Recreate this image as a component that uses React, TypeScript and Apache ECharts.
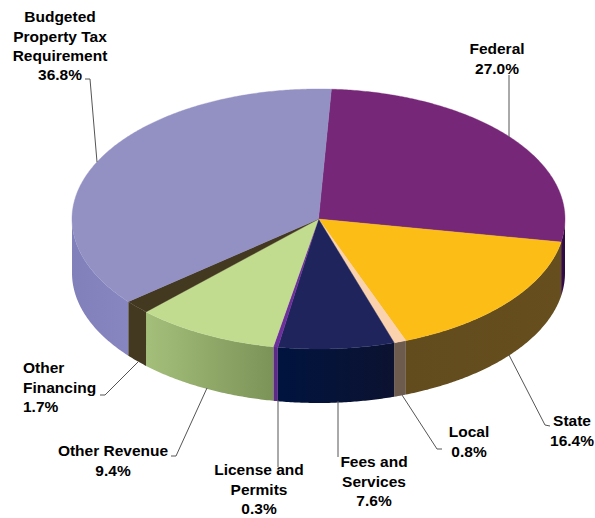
import React, { useEffect, useRef } from "react";
import * as echarts from "echarts";

const categories = ["Federal", "State", "Local", "Fees and\nServices", "License and\nPermits", "Other Revenue", "Other\nFinancing", "Budgeted\nProperty Tax\nRequirement"];
const shares = [27.0, 16.4, 0.8, 7.6, 0.3, 9.4, 1.7, 36.8];

const topColors = ["#762777", "#FBBD16", "#FBD2AE", "#1F255C", "#6C2F9B", "#C1DB8F", "#433820", "#9391C4"];
const wallColors = [
  ["#3A0E4C", "#2A0A3C"],
  ["#624B1D", "#664E1E"],
  ["#6D5B4E", "#6D5B4E"],
  ["#00143F", "#0C1230"],
  ["#5A2A86", "#5A2A86"],
  ["#A4BF7A", "#7C9358"],
  ["#433820", "#433820"],
  ["#8280BA", "#8886C0"],
];

const CX = 318.5, CY = 219, RX = 246.5, RY = 130, DEPTH = 54, START_DEG = 3;

const pt = (deg: number, dy = 0): number[] => {
  const a = (deg * Math.PI) / 180;
  return [CX + RX * Math.sin(a), CY - RY * Math.cos(a) + dy];
};
const arc = (from: number, to: number, dy = 0) => {
  const n = Math.max(2, Math.ceil(Math.abs(to - from) * 2));
  const out: number[][] = [];
  for (let i = 0; i <= n; i++) out.push(pt(from + ((to - from) * i) / n, dy));
  return out;
};

const renderSlice = (params: any, api: any) => {
  const i = params.dataIndex;
  const total = shares.reduce((s, v) => s + v, 0);
  const before = shares.slice(0, i).reduce((s, v) => s + v, 0);
  const a0 = START_DEG + (before / total) * 360;
  const a1 = a0 + (api.value(1) / total) * 360;
  const children: any[] = [];
  const w0 = Math.max(a0, 90), w1 = Math.min(a1, 270);
  if (w1 > w0) {
    const p0 = pt(w0), p1 = pt(w1);
    const points = [...arc(w0, w1), ...arc(w1, w0, DEPTH)];
    children.push({
      type: "polygon",
      shape: { points },
      style: {
        fill: new echarts.graphic.LinearGradient(p0[0], 0, p1[0], 0, [
          { offset: 0, color: wallColors[i][1] },
          { offset: 1, color: wallColors[i][0] },
        ], true),
      },
    });
  }
  children.push({
    type: "polygon",
    shape: { points: [[CX, CY], ...arc(a0, a1)] },
    style: { fill: topColors[i], stroke: topColors[i], lineWidth: 0.4 },
  });
  return { type: "group", children };
};

const labelFont = { fontFamily: "Liberation Sans", fontSize: 15.5, fontWeight: "bold", fill: "#000", lineHeight: 19.4 };
const labelPlaces: any[] = [
  { x: 497, y: 39, align: "center" },
  { x: 572, y: 411, align: "center" },
  { x: 469, y: 422, align: "center" },
  { x: 374, y: 452, align: "center" },
  { x: 259, y: 460, align: "center" },
  { x: 113, y: 441, align: "center" },
  { x: 23, y: 358, align: "left" },
  { x: 60, y: 7, align: "center" },
];
const leaders = [
  [[509, 75], [509, 137]],
  [[509, 355], [545, 425], [550, 426]],
  [[402, 395], [437, 449], [442, 449]],
  [[338, 401], [338, 457]],
  [[278, 400], [278, 467]],
  [[207, 388], [176, 456], [171, 456]],
  [[138, 362], [105, 395], [100, 395]],
  [[85, 79], [90, 79], [97, 162]],
];

export default function App() {
  const ref = useRef<HTMLDivElement>(null);
  useEffect(() => {
    document.body.style.margin = "0";
    const chart = echarts.init(ref.current!, undefined, { renderer: "svg" });
    chart.setOption({
      animation: false,
      backgroundColor: "#ffffff",
      series: [
        {
          type: "custom",
          coordinateSystem: "none",
          silent: true,
          renderItem: renderSlice,
          data: shares.map((v, i) => ({ name: categories[i].replace(/\n/g, " "), value: [i, v] })),
        },
      ],
      graphic: [
        ...leaders.map((points) => ({
          type: "polyline",
          z: 10,
          shape: { points },
          style: { stroke: "#555", lineWidth: 1, fill: "none" },
        })),
        ...categories.map((name, i) => ({
          type: "text",
          z: 11,
          x: labelPlaces[i].x,
          y: labelPlaces[i].y,
          style: {
            ...labelFont,
            text: `${name}\n${shares[i].toFixed(1)}%`,
            align: labelPlaces[i].align,
            verticalAlign: "top",
          },
        })),
      ],
    });
    return () => chart.dispose();
  }, []);
  return <div ref={ref} style={{ width: 595, height: 518 }} />;
}
